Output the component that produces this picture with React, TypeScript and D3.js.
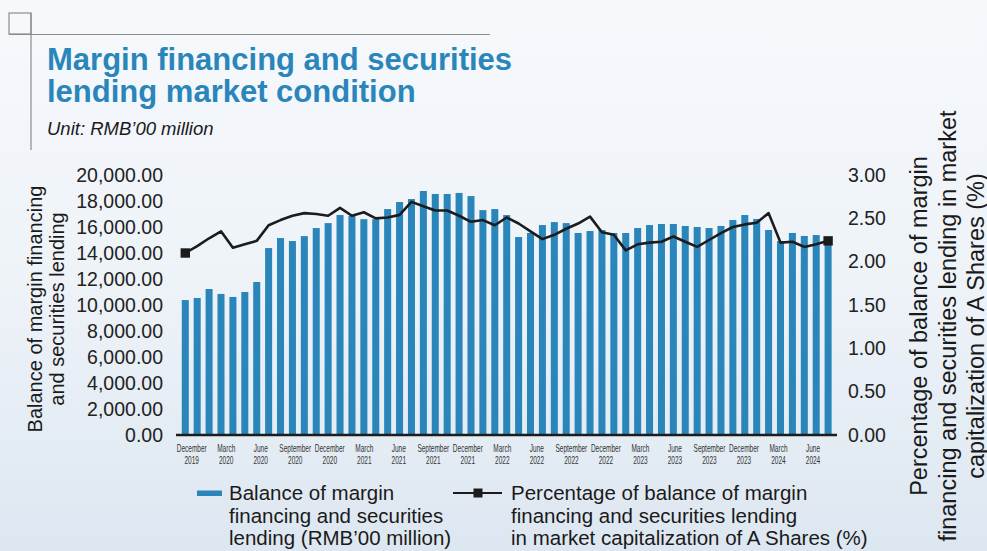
import React from 'react';
import * as d3 from 'd3';

// monthly, December 2019 - June 2024
const balance = [
  10380, 10540, 11230, 10850, 10620, 11000, 11770, 14380, 15150, 14920, 15300, 15920,
  16300, 16920, 16850, 16600, 16600, 17380, 17920, 18150, 18770, 18540, 18540, 18620,
  18380, 17300, 17380, 16920, 15230, 15540, 16150, 16380, 16300, 15540, 15690, 15770,
  15540, 15540, 15920, 16150, 16230, 16230, 16080, 16000, 15920, 16080, 16540, 16920,
  16620, 15770, 14920, 15540, 15310, 15380, 15000,
];

const percent = [
  2.10, 2.18, 2.27, 2.35, 2.16, 2.20, 2.24, 2.42, 2.48, 2.53, 2.56, 2.55,
  2.53, 2.62, 2.53, 2.57, 2.50, 2.51, 2.54, 2.69, 2.64, 2.59, 2.59, 2.53,
  2.46, 2.48, 2.42, 2.51, 2.44, 2.35, 2.26, 2.31, 2.38, 2.44, 2.52, 2.34,
  2.31, 2.13, 2.20, 2.22, 2.23, 2.29, 2.23, 2.17, 2.25, 2.33, 2.40, 2.43,
  2.45, 2.56, 2.22, 2.23, 2.17, 2.20, 2.24,
];

const tickMonths = [
  'December', 'March', 'June', 'September', 'December', 'March', 'June', 'September',
  'December', 'March', 'June', 'September', 'December', 'March', 'June', 'September',
  'December', 'March', 'June',
];
const tickYears = [
  '2019', '2020', '2020', '2020', '2020', '2021', '2021', '2021', '2021', '2022',
  '2022', '2022', '2022', '2023', '2023', '2023', '2023', '2024', '2024',
];

const leftTicks = [0, 2000, 4000, 6000, 8000, 10000, 12000, 14000, 16000, 18000, 20000];
const rightTicks = [0, 0.5, 1, 1.5, 2, 2.5, 3];

const W = 987;
const H = 551;
const BLUE = '#2a86ba';
const FONT = '"Liberation Sans", Arial, Helvetica, sans-serif';

const App = () => {
  const idx = balance.map((_, i) => i);
  const x = d3.scaleBand<number>().domain(idx).range([179.4, 834]).paddingInner(0.41).paddingOuter(0.2);
  const cx = (i: number) => (x(i) ?? 0) + x.bandwidth() / 2;
  const yL = d3.scaleLinear().domain([0, 20000]).range([435, 175]);
  const yR = d3.scaleLinear().domain([0, 3]).range([435, 175]);
  const xLab = d3.scalePoint<number>().domain(tickMonths.map((_, i) => i)).range([191.7, 813]);

  const line = d3.line<number>().x((_, i) => cx(i)).y(d => yR(d));
  const fmtL = d3.format(',.2f');
  const fmtR = d3.format('.2f');
  const last = percent.length - 1;

  return (
    <svg width={W} height={H} style={{ position: 'absolute', left: 0, top: 0, fontFamily: FONT }}>
      <defs>
        <linearGradient id="bg" x1="0" y1="0" x2="0" y2="1">
          <stop offset="0" stopColor="#f6f9fc" />
          <stop offset="0.5" stopColor="#eef3f8" />
          <stop offset="1" stopColor="#dde7f1" />
        </linearGradient>
      </defs>
      <rect width={W} height={H} fill="url(#bg)" />

      {/* decoration */}
      <rect x={9} y={13} width={22} height={21} fill="none" stroke="#8c8c8c" strokeWidth={1.2} />
      <line x1={9} x2={490} y1={34.5} y2={34.5} stroke="#8c8c8c" strokeWidth={1.2} />
      <line x1={31} x2={31} y1={13} y2={150} stroke="#8c8c8c" strokeWidth={1.2} />

      <text x={47} y={70} fontSize={31} fontWeight="bold" fill={BLUE}>Margin financing and securities</text>
      <text x={47} y={102} fontSize={31} fontWeight="bold" fill={BLUE}>lending market condition</text>
      <text x={47} y={135} fontSize={18.5} fontStyle="italic" fill="#1a1a1a">Unit: RMB’00 million</text>

      {/* bars */}
      {balance.map((v, i) => (
        <rect key={i} x={x(i)} y={yL(v)} width={x.bandwidth()} height={yL(0) - yL(v)} fill={BLUE} />
      ))}

      <line x1={176} x2={837} y1={yL(0)} y2={yL(0)} stroke="#1c1c1c" strokeWidth={2.6} />

      {/* line */}
      <path d={line(percent) ?? ''} fill="none" stroke="#1c1c1c" strokeWidth={2.6} strokeLinejoin="round" />
      {[0, last].map(i => (
        <rect key={i} x={cx(i) - 4.7} y={yR(percent[i]) - 4.7} width={9.4} height={9.4} fill="#1c1c1c" />
      ))}

      {/* left ticks */}
      {leftTicks.map(t => (
        <text key={t} x={163} y={yL(t)} dy="0.35em" textAnchor="end" fontSize={19.5} fill="#222">{fmtL(t)}</text>
      ))}
      {/* right ticks */}
      {rightTicks.map(t => (
        <text key={t} x={848} y={yR(t)} dy="0.35em" fontSize={19.5} fill="#222">{fmtR(t)}</text>
      ))}

      {/* x labels */}
      {tickMonths.map((m, i) => (
        <g key={i} transform={`translate(${xLab(i)},0) scale(0.62,1)`}>
          <text y={452.5} textAnchor="middle" fontSize={10.5} fill="#333">{m}</text>
          <text y={464} textAnchor="middle" fontSize={10.5} fill="#333">{tickYears[i]}</text>
        </g>
      ))}

      {/* axis titles */}
      <g transform="translate(0,309) rotate(-90)" fontSize={20} fill="#1a1a1a" textAnchor="middle">
        <text x={0} y={42}>Balance of margin financing</text>
        <text x={0} y={64}>and securities lending</text>
      </g>
      <g transform="translate(0,326) rotate(-90)" fontSize={23.5} fill="#1a1a1a" textAnchor="middle">
        <text x={0} y={927}>Percentage of balance of margin</text>
        <text x={0} y={956}>financing and securities lending in market</text>
        <text x={0} y={984}>capitalization of A Shares (%)</text>
      </g>

      {/* legend */}
      <rect x={197} y={490.5} width={25} height={5.5} fill={BLUE} />
      <g fontSize={20.5} fill="#1a1a1a">
        <text x={229} y={500}>Balance of margin</text>
        <text x={229} y={522.5}>financing and securities</text>
        <text x={229} y={545}>lending (RMB’00 million)</text>
      </g>
      <line x1={453} x2={502} y1={493} y2={493} stroke="#1c1c1c" strokeWidth={2} />
      <rect x={473.5} y={488.5} width={9} height={9} fill="#1c1c1c" />
      <g fontSize={20.5} fill="#1a1a1a">
        <text x={511} y={500}>Percentage of balance of margin</text>
        <text x={511} y={522.5}>financing and securities lending</text>
        <text x={511} y={545}>in market capitalization of A Shares (%)</text>
      </g>
    </svg>
  );
};

export default App;
